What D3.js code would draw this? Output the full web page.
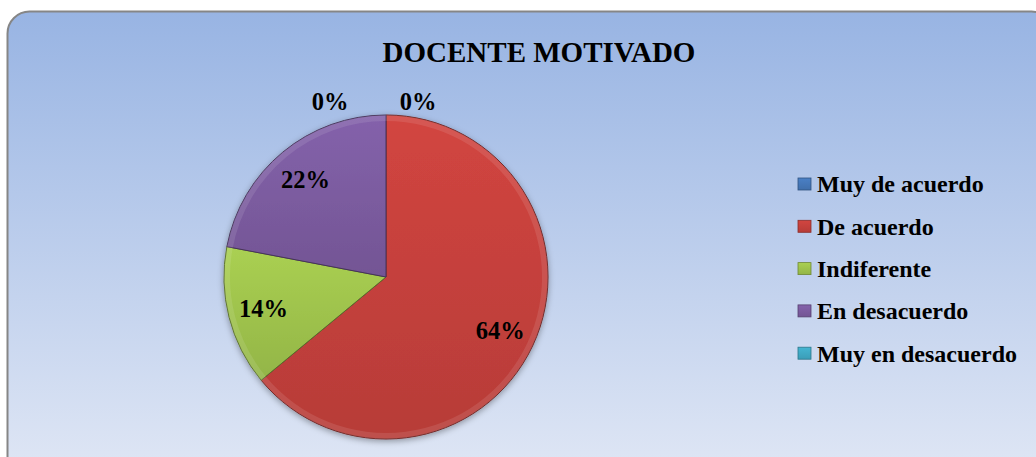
<!DOCTYPE html>
<html>
<head>
<meta charset="utf-8">
<script src="https://cdn.jsdelivr.net/npm/d3@7/dist/d3.min.js"></script>
<style>
  html, body { margin: 0; padding: 0; background: #fff; }
  svg { display: block; font-family: "Liberation Serif", "Times New Roman", serif; }
</style>
</head>
<body>
<svg id="chart" width="1036" height="457"></svg>
<script>
// chart data
const title = "DOCENTE MOTIVADO";
const categories = ["Muy de acuerdo", "De acuerdo", "Indiferente", "En desacuerdo", "Muy en desacuerdo"];
const values = [0, 64, 14, 22, 0];
const labels = ["0%", "64%", "14%", "22%", "0%"];
const colors = ["#4577b8", "#c4403c", "#9ec24c", "#7b5b9f", "#3fa9c4"];

const width = 1036, height = 457;
const svg = d3.select("#chart");
const defs = svg.append("defs");

// background gradient
const bg = defs.append("linearGradient")
  .attr("id", "bg").attr("x1", 0).attr("y1", 0).attr("x2", 0).attr("y2", 1);
bg.append("stop").attr("offset", "0%").attr("stop-color", "#98b4e3");
bg.append("stop").attr("offset", "100%").attr("stop-color", "#e0e7f5");

svg.append("rect")
  .attr("x", 7.5).attr("y", 11.5)
  .attr("width", width + 10).attr("height", height + 10)
  .attr("rx", 22).attr("ry", 22)
  .attr("fill", "url(#bg)")
  .attr("stroke", "#868686")
  .attr("stroke-width", 2);

// title
svg.append("text")
  .attr("x", 539).attr("y", 62)
  .attr("text-anchor", "middle")
  .attr("font-size", 29)
  .attr("font-weight", "bold")
  .attr("fill", "#000")
  .text(title);

/*
| Pie
*/
const cx = 386, cy = 277, radius = 162;

colors.forEach((c, i) => {
  const g = defs.append("linearGradient")
    .attr("id", `slice-${i}`).attr("x1", 0).attr("y1", 0).attr("x2", 0).attr("y2", 1);
  g.append("stop").attr("offset", "0%").attr("stop-color", d3.color(c).brighter(0.2));
  g.append("stop").attr("offset", "100%").attr("stop-color", d3.color(c).darker(0.2));
});

const shadow = defs.append("filter").attr("id", "shadow")
  .attr("x", "-20%").attr("y", "-20%").attr("width", "140%").attr("height", "140%");
shadow.append("feDropShadow")
  .attr("dx", 0).attr("dy", 2).attr("stdDeviation", 3)
  .attr("flood-color", "#000").attr("flood-opacity", 0.35);

const pie = d3.pie().sort(null).value(d => d);
const arcs = pie(values);

const arc = d3.arc().innerRadius(0).outerRadius(radius);
const rim = d3.arc().innerRadius(radius - 6).outerRadius(radius);
const labelArc = d3.arc().innerRadius(radius * 0.78).outerRadius(radius * 0.78);

const pieG = svg.append("g")
  .attr("transform", `translate(${cx},${cy})`);

pieG.append("g")
  .attr("filter", "url(#shadow)")
  .selectAll("path")
  .data(arcs.filter(d => d.value > 0))
  .join("path")
  .attr("d", arc)
  .attr("fill", d => `url(#slice-${d.index})`)
  .attr("stroke", d => d3.color(colors[d.index]).darker(1.6))
  .attr("stroke-width", 1);

// bevel highlight on the rim
pieG.append("g")
  .selectAll("path")
  .data(arcs.filter(d => d.value > 0))
  .join("path")
  .attr("d", rim)
  .attr("fill", "#fff")
  .attr("opacity", 0.1);

// labels
pieG.append("g")
  .selectAll("text")
  .data(arcs)
  .join("text")
  .attr("transform", d => {
    if (d.value > 0) {
      const [x, y] = labelArc.centroid(d);
      return `translate(${x},${y})`;
    }
    // zero slices sit just outside the top of the pie
    const side = d.index === 0 ? 1 : -1;
    return `translate(${side === 1 ? 32 : -56},${-radius - 14})`;
  })
  .attr("text-anchor", "middle")
  .attr("dy", "0.35em")
  .attr("font-size", 24.5)
  .attr("font-weight", "bold")
  .attr("fill", "#000")
  .text((d, i) => labels[i]);

/*
| Legend
*/
const legend = svg.append("g")
  .attr("transform", "translate(798,184)");

const rowY = d3.scaleBand()
  .domain(categories)
  .range([0, 5 * 42.3]);

const item = legend.selectAll("g")
  .data(categories)
  .join("g")
  .attr("transform", d => `translate(0,${rowY(d)})`);

item.append("rect")
  .attr("x", 0).attr("y", -6)
  .attr("width", 13).attr("height", 12)
  .attr("fill", (d, i) => `url(#slice-${i})`)
  .attr("stroke", (d, i) => d3.color(colors[i]).darker(1))
  .attr("stroke-width", 0.8);

item.append("text")
  .attr("x", 19)
  .attr("dy", "0.35em")
  .attr("font-size", 24)
  .attr("font-weight", "bold")
  .attr("fill", "#000")
  .text(d => d);
</script>
</body>
</html>
